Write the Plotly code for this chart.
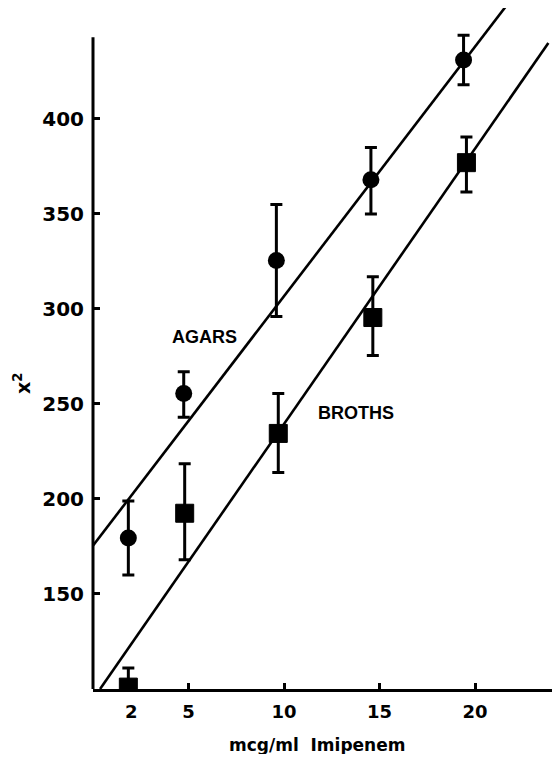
import plotly.graph_objects as go

# ---- data ----
agar_x = [1.85, 4.75, 9.6, 14.55, 19.4]
agar_y = [179.5, 255.5, 325.5, 368.0, 431.0]
agar_hi = [199.0, 267.0, 355.0, 385.0, 444.0]
agar_lo = [160.0, 243.0, 296.0, 350.0, 418.0]

broth_x = [1.85, 4.8, 9.7, 14.65, 19.55]
broth_y = [101.0, 192.5, 234.5, 295.5, 377.0]
broth_hi = [111.0, 218.5, 255.5, 317.0, 390.5]
broth_lo = [95.0, 168.0, 214.0, 275.5, 361.5]

agar_fit_x = [-0.3, 21.9]
agar_fit_y = [171.5, 463.0]
broth_fit_x = [0.37, 23.84]
broth_fit_y = [100.0, 440.0]

x_ticks = [2, 5, 10, 15, 20]
y_ticks = [150, 200, 250, 300, 350, 400]

x_range = [0, 24.03]
y_range = [100, 458.4]
y_axis_top = 443

fig = go.Figure()

fig.add_trace(go.Scatter(x=agar_fit_x, y=agar_fit_y, mode="lines",
                         line=dict(color="black", width=2.6), hoverinfo="skip"))
fig.add_trace(go.Scatter(x=broth_fit_x, y=broth_fit_y, mode="lines",
                         line=dict(color="black", width=2.6), hoverinfo="skip"))

fig.add_trace(go.Scatter(
    x=agar_x, y=agar_y, mode="markers",
    marker=dict(symbol="circle", size=17, color="black"),
    error_y=dict(type="data", symmetric=False,
                 array=[h - m for h, m in zip(agar_hi, agar_y)],
                 arrayminus=[m - l for m, l in zip(agar_y, agar_lo)],
                 color="black", thickness=3, width=6)))

fig.add_trace(go.Scatter(
    x=broth_x, y=broth_y, mode="markers",
    marker=dict(symbol="square", size=18, color="black",
                line=dict(color="black", width=1)),
    error_y=dict(type="data", symmetric=False,
                 array=[h - m for h, m in zip(broth_hi, broth_y)],
                 arrayminus=[m - l for m, l in zip(broth_y, broth_lo)],
                 color="black", thickness=3, width=6)))

fig.add_annotation(x=5.86, y=285.3, text="<b>AGARS</b>", showarrow=False,
                   xanchor="center", yanchor="middle",
                   font=dict(family="Liberation Sans", size=18, color="black"))
fig.add_annotation(x=13.77, y=245.3, text="<b>BROTHS</b>", showarrow=False,
                   xanchor="center", yanchor="middle",
                   font=dict(family="Liberation Sans", size=18, color="black"))

fig.add_annotation(xref="paper", yref="paper", x=0.488, y=-0.082,
                   xanchor="center", yanchor="middle",
                   text="<b>mcg/ml  Imipenem</b>", showarrow=False,
                   font=dict(family="DejaVu Sans", size=17, color="black"))
fig.add_annotation(xref="paper", yref="paper", x=-0.155, y=0.449,
                   xanchor="center", yanchor="middle",
                   text="<b>x<sup>2</sup></b>", textangle=-90, showarrow=False,
                   font=dict(family="DejaVu Sans", size=19, color="black"))

fig.add_shape(type="line", xref="paper", yref="paper", x0=0, x1=0,
              y0=0, y1=(y_axis_top - y_range[0]) / (y_range[1] - y_range[0]),
              line=dict(color="black", width=3))

fig.update_layout(
    width=544, height=746,
    margin=dict(l=85, r=0, t=0, b=65),
    paper_bgcolor="white", plot_bgcolor="white",
    showlegend=False,
    xaxis=dict(range=x_range, tickvals=x_ticks,
               ticktext=[f"<b>{v}</b>" for v in x_ticks],
               showgrid=False, zeroline=False, showline=True,
               linecolor="black", linewidth=3,
               ticks="inside", ticklen=6, tickwidth=2.5, tickcolor="black",
               tickfont=dict(family="DejaVu Sans", size=18, color="black"),
               ticklabelstandoff=4),
    yaxis=dict(range=y_range, tickvals=y_ticks,
               ticktext=[f"<b>{v}</b>" for v in y_ticks],
               showgrid=False, zeroline=False, showline=False,
               ticks="inside", ticklen=7, tickwidth=2.5, tickcolor="black",
               tickfont=dict(family="DejaVu Sans", size=20, color="black"),
               ticklabelstandoff=8),
)

fig.write_html("out.html")
